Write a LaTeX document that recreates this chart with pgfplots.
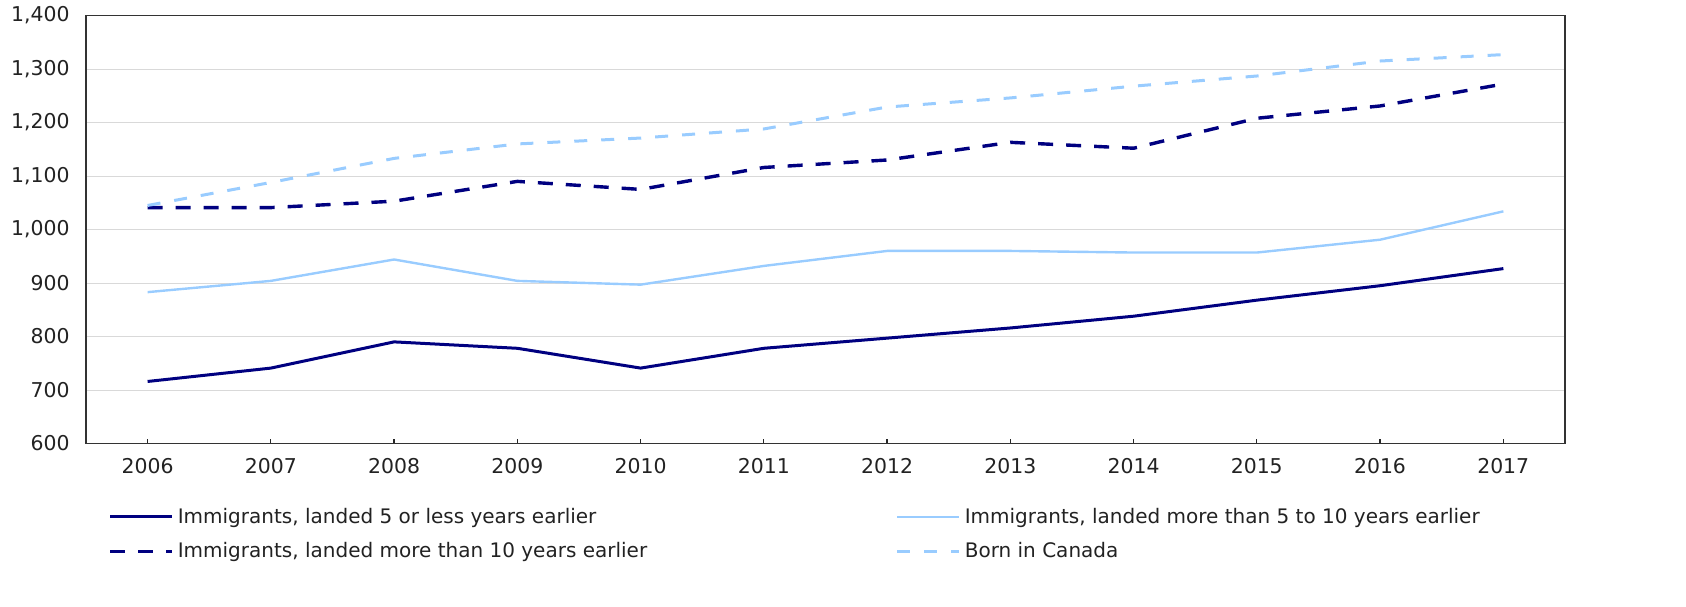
\documentclass[border=0pt]{standalone}
\usepackage{pgfplots}
\pgfplotsset{compat=1.18}
\usepackage{fontspec}
\setmainfont{DejaVu Sans}

\definecolor{navyline}{RGB}{0,0,128}
\definecolor{lightline}{RGB}{153,204,255}
\definecolor{gridgray}{RGB}{217,217,217}
\definecolor{txt}{RGB}{34,34,34}

\begin{document}
\fontsize{10.2}{12}\selectfont
\begin{tikzpicture}
\begin{axis}[
  at={(0pt,0pt)}, anchor=south west,
  scale only axis,
  width=739.5pt, height=214pt,
  xmin=2005.5, xmax=2017.5,
  ymin=600, ymax=1400,
  xtick={2006,...,2017},
  ytick={600,700,...,1400},
  /pgf/number format/assume math mode=true,
  x tick label style={/pgf/number format/1000 sep={}, yshift=-4pt, text=txt},
  y tick label style={/pgf/number format/1000 sep={,}, xshift=-4.6pt, text=txt},
  tick pos=left,
  tick align=inside,
  major tick length=2.5pt,
  xtick style={draw=black!85, line width=0.6pt},
  ytick style={draw=none},
  ymajorgrids,
  grid style={gridgray, line width=0.5pt},
  axis line style={draw=black!80, line width=0.8pt},
  legend columns=2,
  legend cell align=left,
  legend image code/.code={\draw[#1] (0pt,0pt) -- (31pt,0pt);},
  legend style={
    at={(0.0149,-0.140)}, anchor=north west,
    draw=none, fill=none, inner sep=0pt,
    text=txt, row sep=4pt, font=\fontsize{10}{12}\selectfont,
    /tikz/every even column/.append style={column sep=0pt},
  },
]
\addplot[navyline, line width=1.5pt] coordinates {
  (2006,716) (2007,741) (2008,790) (2009,778) (2010,741) (2011,778)
  (2012,797) (2013,816) (2014,838) (2015,868) (2016,895) (2017,927)};
\addplot[lightline, line width=1.2pt] coordinates {
  (2006,883) (2007,904) (2008,944) (2009,904) (2010,897) (2011,932)
  (2012,960) (2013,960) (2014,957) (2015,957) (2016,981) (2017,1034)};
\addplot[navyline, line width=1.7pt, dash pattern=on 7.5pt off 6.5pt] coordinates {
  (2006,1041) (2007,1041) (2008,1053) (2009,1090) (2010,1075) (2011,1116)
  (2012,1130) (2013,1163) (2014,1152) (2015,1208) (2016,1231) (2017,1272)};
\addplot[lightline, line width=1.5pt, dash pattern=on 6.5pt off 7pt] coordinates {
  (2006,1045) (2007,1088) (2008,1133) (2009,1160) (2010,1171) (2011,1188)
  (2012,1229) (2013,1246) (2014,1268) (2015,1287) (2016,1315) (2017,1327)};
\addlegendentry{\makebox[357pt][l]{Immigrants, landed 5 or less years earlier}}
\addlegendentry{Immigrants, landed more than 5 to 10 years earlier}
\addlegendentry{\makebox[357pt][l]{Immigrants, landed more than 10 years earlier}}
\addlegendentry{Born in Canada}
\end{axis}
\path (-43pt,-81.5pt) rectangle (800pt,221.5pt);
\end{tikzpicture}
\end{document}
